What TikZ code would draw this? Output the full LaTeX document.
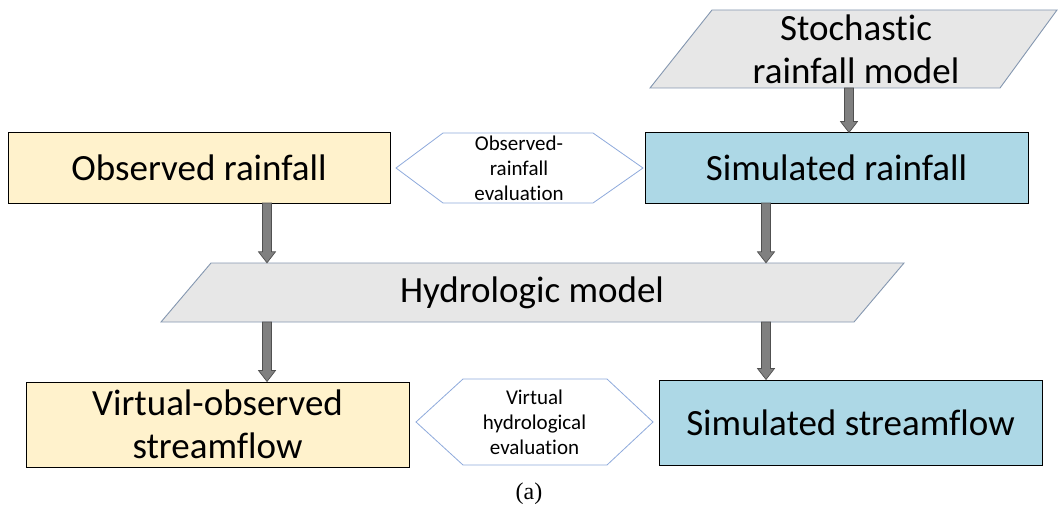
\documentclass[tikz,border=0pt]{standalone}
\usepackage{fontspec}
\setmainfont{Carlito}[Ligatures=NoCommon]
\newfontfamily\serifabc{Liberation Serif}
\usetikzlibrary{calc}
\definecolor{obsfill}{HTML}{FFF2CC}
\definecolor{simfill}{HTML}{ADD8E6}
\definecolor{parfill}{HTML}{E7E7E7}
\definecolor{pardraw}{HTML}{8497B0}
\definecolor{hexdraw}{HTML}{8FAADC}
\definecolor{arrfill}{HTML}{808080}
\definecolor{arrdraw}{HTML}{505050}
\tikzset{
  obsbox/.style={draw=black, line width=1pt, fill=obsfill, inner sep=0pt, font=\fontsize{37}{43}\selectfont, align=center},
  simbox/.style={draw=black, line width=1pt, fill=simfill, inner sep=0pt, font=\fontsize{37}{43}\selectfont, align=center},
  partext/.style={inner sep=0pt, font=\fontsize{37}{43}\selectfont, align=center},
  hexshape/.style={draw=hexdraw, line width=0.8pt, fill=white},
  parshape/.style={draw=pardraw, line width=0.9pt, fill=parfill},
  hextext/.style={inner sep=0pt, font=\fontsize{21}{25}\selectfont, align=center},
  blockarrow/.style={fill=arrfill, draw=arrdraw, line width=0.7pt,
    to path={let \p1=(\tikztostart), \p2=(\tikztotarget) in
      (\x1-4.5pt,\y1) -- (\x1+4.5pt,\y1) -- (\x1+4.5pt,\y2+11pt) -- (\x1+8.5pt,\y2+11pt)
      -- (\x1,\y2) -- (\x1-8.5pt,\y2+11pt) -- (\x1-4.5pt,\y2+11pt) -- cycle}}
}
\begin{document}
\begin{tikzpicture}[x=1pt,y=-1pt]
\useasboundingbox (0,0) rectangle (1059,513);
% Stochastic rainfall model
\path[parshape] (712,10) -- (1057,10) -- (1000,88) -- (650,88) -- cycle;
\node[partext, minimum width=300pt, minimum height=78pt] (stoch) at (856,49) {Stochastic\\rainfall model};
% Rainfall boxes
\node[obsbox, minimum width=382pt, minimum height=70pt] (obsrain) at (199,168) {Observed rainfall};
\node[simbox, minimum width=383pt, minimum height=70pt] (simrain) at (836.5,168) {Simulated rainfall};
% Observed-rainfall evaluation hexagon
\path[hexshape] (396,168) -- (443,133) -- (593,133) -- (643,168) -- (593,203) -- (443,203) -- cycle;
\node[hextext] (evalrain) at (519,168) {Observed-\\rainfall\\evaluation};
% Hydrologic model
\path[parshape] (211,263) -- (904,263) -- (854,322) -- (161,322) -- cycle;
\node[partext, minimum width=640pt, minimum height=59pt] (hydro) at (532,292.5) {Hydrologic model};
% Streamflow boxes
\node[obsbox, minimum width=383pt, minimum height=85pt] (obsflow) at (217.5,424.5) {Virtual-observed\\streamflow};
\node[simbox, minimum width=383pt, minimum height=85pt] (simflow) at (850.5,422.5) {Simulated streamflow};
% Virtual hydrological evaluation hexagon
\path[hexshape] (416,422) -- (463,379) -- (607,379) -- (653,422) -- (607,465) -- (463,465) -- cycle;
\node[hextext] (evalflow) at (534.5,422) {Virtual\\hydrological\\evaluation};
% Arrows
\coordinate (a1s) at (849,88);
\path[blockarrow] (a1s) to (a1s |- simrain.north);
\coordinate (a2s) at (267,203);
\path[blockarrow] (a2s) to (a2s |- hydro.north);
\coordinate (a3s) at (766,203);
\path[blockarrow] (a3s) to (a3s |- hydro.north);
\coordinate (a4s) at (267,322);
\path[blockarrow] (a4s) to (a4s |- obsflow.north);
\coordinate (a5s) at (766,322);
\path[blockarrow] (a5s) to (a5s |- simflow.north);
% caption
\node[inner sep=0pt, font=\serifabc\fontsize{24}{28}\selectfont] (cap) at (529,494) {(a)};
\end{tikzpicture}
\end{document}
